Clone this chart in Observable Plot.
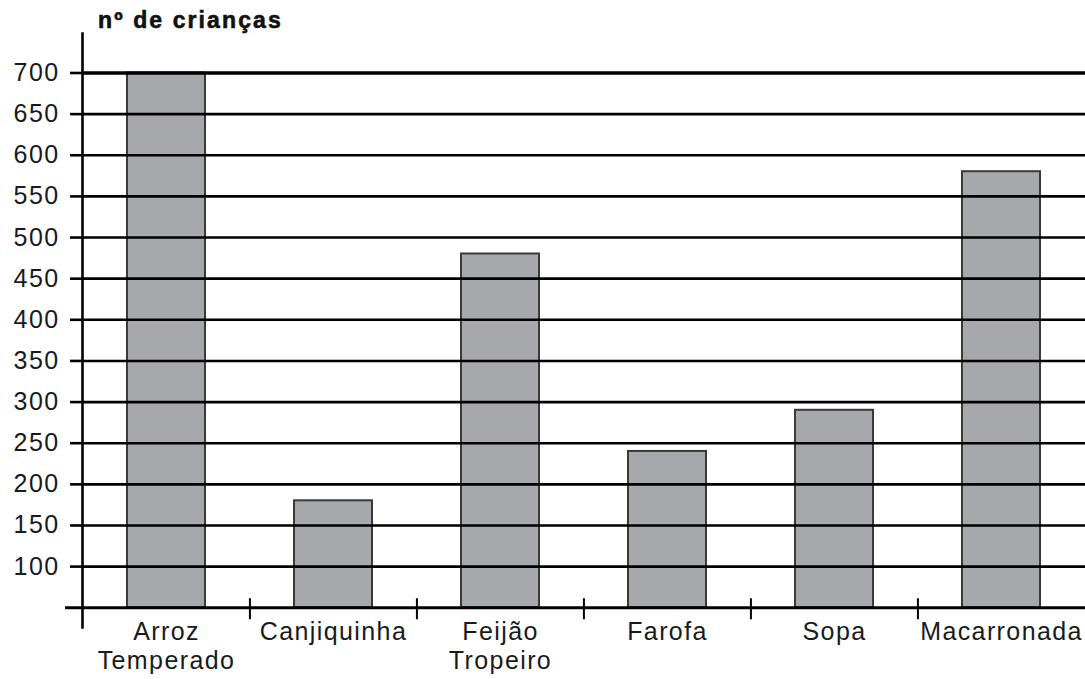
<!DOCTYPE html>
<html>
<head>
<meta charset="utf-8">
<script src="https://cdn.jsdelivr.net/npm/d3@7"></script>
<script src="https://cdn.jsdelivr.net/npm/@observablehq/plot@0.6"></script>
<style>
  body { margin: 0; background: #fff; }
  #wrap { position: relative; width: 1085px; height: 679px; }
  #title { position: absolute; left: 98px; top: 9px; font: bold 23px "Liberation Sans", Arial, sans-serif; letter-spacing: 2.1px; line-height: 23px; color: #111; white-space: nowrap; -webkit-text-stroke: 0.6px #111; }
  svg { display: block; }
  svg text { letter-spacing: 1.4px; }
</style>
</head>
<body>
<div id="wrap">
  <div id="title">nº de crianças</div>
</div>
<script>
const categories = ["Arroz\nTemperado", "Canjiquinha", "Feijão\nTropeiro", "Farofa", "Sopa", "Macarronada"];
const values = [700, 180, 480, 240, 290, 580];
const yTicks = [100, 150, 200, 250, 300, 350, 400, 450, 500, 550, 600, 650, 700];
const baseline = 50;

const data = categories.map((c, i) => ({category: c, value: values[i]}));

const W = 1085, H = 679, mL = 82, mR = 0, mT = 33, mB = 52;
const step = (W - mL - mR) / categories.length;
const font = '"Liberation Sans", Arial, sans-serif';

const chart = Plot.plot({
  width: W,
  height: H,
  marginLeft: mL,
  marginRight: mR,
  marginTop: mT,
  marginBottom: mB,
  style: {fontFamily: font, fontSize: "25px", color: "#1a1a1a", background: "transparent"},
  x: {domain: categories, paddingInner: 0.53, paddingOuter: 0.265, axis: null},
  y: {domain: [26, 748], axis: null},
  marks: [
    Plot.barY(data, {x: "category", y1: baseline, y2: "value", fill: "#a7a8ab", stroke: "#3a3a3a", strokeWidth: 2}),
    Plot.ruleY(yTicks, {stroke: "#000", strokeWidth: d => d === 700 ? 3.5 : 2.6}),
    Plot.ruleY([baseline], {stroke: "#000", strokeWidth: 3}),
    Plot.axisY({ticks: yTicks, tickSize: 12, tickPadding: 11, strokeWidth: 2.6, stroke: "#000", fontSize: 25, fill: "#1a1a1a", label: null}),
    Plot.axisY({ticks: [baseline], tickSize: 17, tickFormat: () => "", strokeWidth: 3, stroke: "#000", label: null}),
    Plot.frame({anchor: "left", stroke: "#000", strokeWidth: 2.6}),
    Plot.ruleX(categories.slice(1), {x: d => d, y1: baseline, y2: baseline, dx: -step / 2, insetTop: -9, insetBottom: -12, stroke: "#000", strokeWidth: 2}),
    Plot.text(categories, {x: d => d, frameAnchor: "bottom", text: d => d, lineAnchor: "top", dy: -8, lineHeight: 1.16, fontSize: 25, fill: "#1a1a1a"})
  ]
});
document.getElementById("wrap").prepend(chart);
</script>
</body>
</html>
